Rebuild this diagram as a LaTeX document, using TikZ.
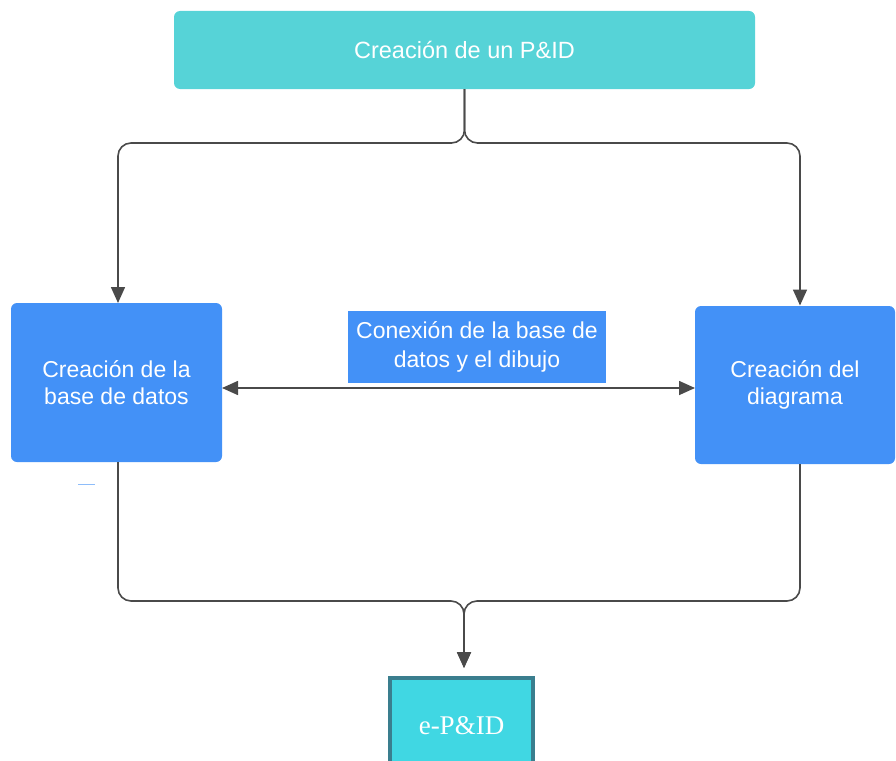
\documentclass[tikz,border=0pt]{standalone}
\usepackage{fontspec}
\setmainfont{Liberation Sans}
\newfontfamily\serifface{Liberation Serif}
\usetikzlibrary{arrows.meta}
\definecolor{topteal}{HTML}{56D3D7}
\definecolor{boxblue}{HTML}{4391F7}
\definecolor{endcyan}{HTML}{40D7E3}
\definecolor{endedge}{HTML}{3A7E8E}
\definecolor{linegray}{HTML}{4A4A4A}
\tikzset{
  topbox/.style={fill=topteal, rounded corners=6pt, minimum width=581pt, minimum height=78pt, text=white, font=\fontsize{23.5}{27}\selectfont, inner sep=0pt},
  sidebox/.style={fill=boxblue, rounded corners=6pt, text=white, align=center, font=\fontsize{23}{27.5}\selectfont, inner sep=0pt},
  labelbox/.style={fill=boxblue, text=white, align=center, font=\fontsize{23}{29}\selectfont, minimum width=258pt, minimum height=72pt, inner sep=0pt},
  endbox/.style={fill=endcyan, draw=endedge, line width=4pt, minimum width=143pt, minimum height=96pt, text=white, font=\serifface\fontsize{27}{30}\selectfont, inner sep=0pt},
  conn/.style={draw=linegray, line width=1.6pt, rounded corners=13pt},
  tip/.style={-{Triangle[length=16pt,width=14pt]}},
  dtip/.style={{Triangle[length=16pt,width=14pt]}-{Triangle[length=16pt,width=14pt]}},
}
\begin{document}
\begin{tikzpicture}[x=1pt,y=-1pt]
\useasboundingbox (0,0) rectangle (896,760);
\node[topbox] (top) at (464.5,50) {Creación de un P\&ID};
\node[sidebox, minimum width=211pt, minimum height=159pt] (L) at (116.5,382.5) {Creación de la\\base de datos};
\node[sidebox, minimum width=200pt, minimum height=158pt] (R) at (795,385) {Creación del\\diagrama};
\node[labelbox] (M) at (477,347) {Conexión de la base de\\datos y el dibujo};
\node[endbox] (E) at (461.5,726) {e-P\&ID};
\coordinate (fork) at (464.5,143);
\coordinate (lin) at (118,303);
\coordinate (rin) at (800,305.5);
\coordinate (join) at (464,601);
\coordinate (ein) at (464,668);
\coordinate (lout) at (118,462);
\coordinate (rout) at (800,464);
\coordinate (a1) at (222,388);
\coordinate (a2) at (695,388);
\draw[conn, tip] (top.south) -- (fork) -- (fork -| lin) -- (lin);
\draw[conn, tip] (top.south) -- (fork) -- (fork -| rin) -- (rin);
\draw[conn, tip] (lout) -- (lout |- join) -- (join) -- (ein);
\draw[conn, tip] (rout) -- (rout |- join) -- (join) -- (ein);
\draw[conn, dtip] (a1) -- (a2);
\draw[draw=boxblue!60, line width=1pt] (78,484) -- (95,484);
\end{tikzpicture}
\end{document}
